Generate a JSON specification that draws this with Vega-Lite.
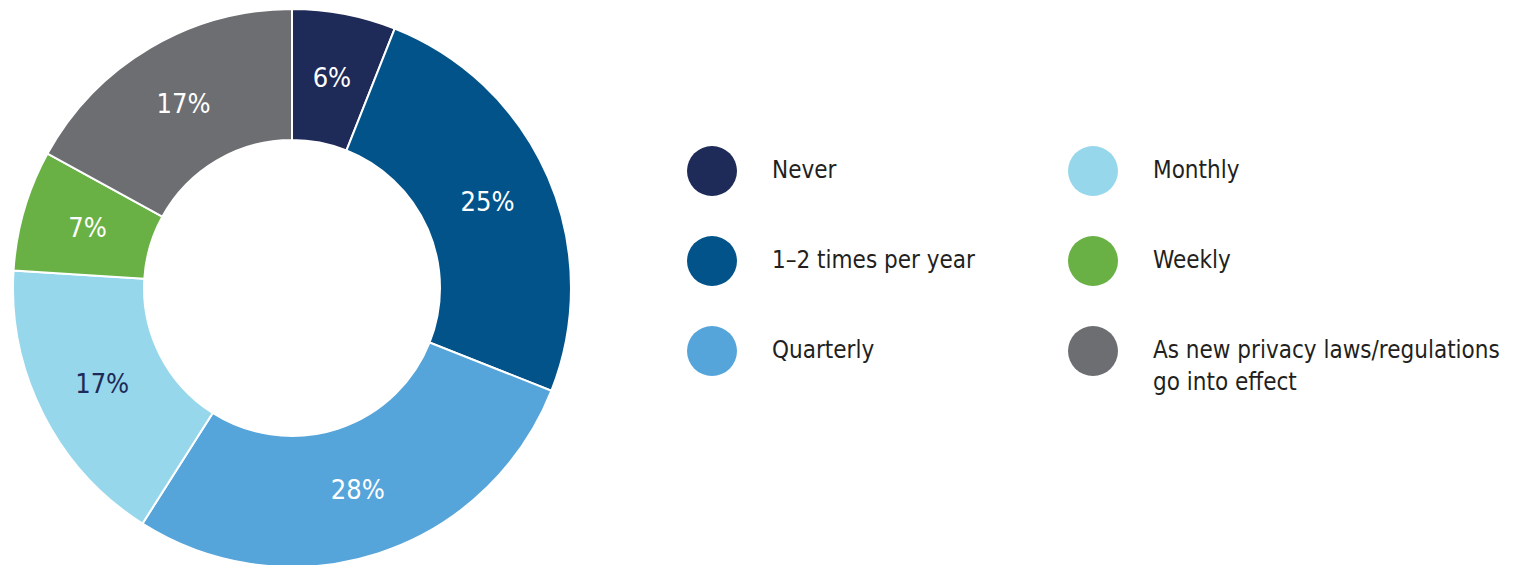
{
  "$schema": "https://vega.github.io/schema/vega-lite/v6.json",
  "width": 584,
  "height": 576,
  "padding": 0,
  "background": "white",
  "config": {"view": {"stroke": null}, "style": {"guide-label": {"lineHeight": 32}}},
  "data": {
    "values": [
      {"category": "Never", "value": 6, "order": 1, "pct": "6%"},
      {"category": "1–2 times per year", "value": 25, "order": 2, "pct": "25%"},
      {"category": "Quarterly", "value": 28, "order": 3, "pct": "28%"},
      {"category": "Monthly", "value": 17, "order": 4, "pct": "17%"},
      {"category": "Weekly", "value": 7, "order": 5, "pct": "7%"},
      {"category": "As new privacy laws/regulations go into effect", "value": 17, "order": 6, "pct": "17%"}
    ]
  },
  "encoding": {
    "theta": {"field": "value", "type": "quantitative", "stack": true},
    "order": {"field": "order", "type": "quantitative"}
  },
  "layer": [
    {
      "mark": {"type": "arc", "outerRadius": 279, "innerRadius": 148, "stroke": "white", "strokeWidth": 2},
      "encoding": {
        "color": {
          "field": "category",
          "type": "nominal",
          "scale": {
            "domain": ["Never", "1–2 times per year", "Quarterly", "Monthly", "Weekly", "As new privacy laws/regulations go into effect"],
            "range": ["#1e2a57", "#02538a", "#55a4da", "#96d7ec", "#69b144", "#6d6e71"]
          },
          "legend": {
            "title": null,
            "orient": "none",
            "legendX": 687,
            "legendY": 146,
            "columns": 2,
            "columnPadding": 93,
            "rowPadding": 40,
            "padding": 0,
            "symbolType": "circle",
            "symbolSize": 2500,
            "symbolStrokeWidth": 0,
            "labelOffset": 35,
            "labelFont": "Liberation Sans Narrow, DejaVu Sans Condensed, Roboto, sans-serif",
            "labelFontSize": 24,
            "labelColor": "#231f20",
            "labelLimit": 500,
            "labelExpr": "datum.label == 'As new privacy laws/regulations go into effect' ? ['As new privacy laws/regulations', '\u00a0go into effect'] : datum.label"
          }
        }
      }
    },
    {
      "mark": {"type": "text", "radius": 213, "font": "Liberation Sans Narrow, DejaVu Sans Condensed, Roboto, sans-serif", "fontSize": 27, "baseline": "middle", "align": "center"},
      "encoding": {
        "text": {"field": "pct", "type": "nominal"},
        "color": {
          "condition": {"test": "datum.category == 'Monthly'", "value": "#1e2a57"},
          "value": "white"
        }
      }
    }
  ]
}
